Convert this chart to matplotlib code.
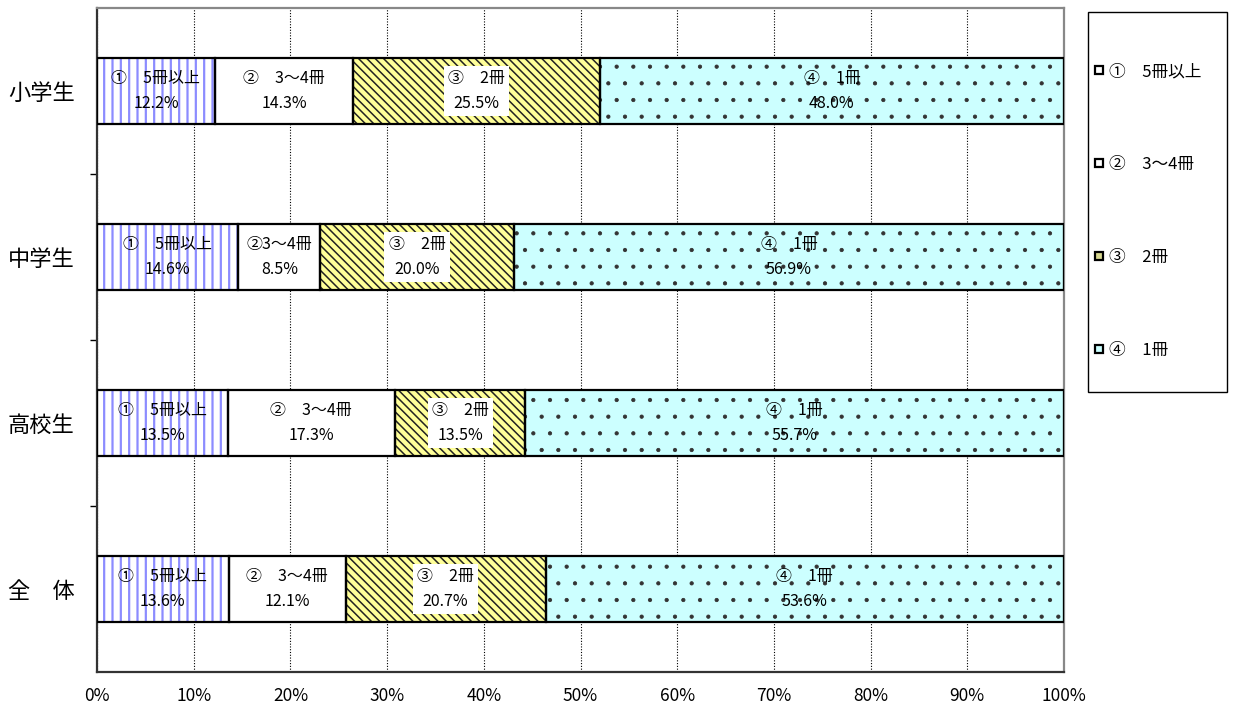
import numpy as np
import matplotlib.pyplot as plt
from matplotlib.lines import Line2D
from matplotlib.patches import Rectangle

plt.rcParams['font.family'] = ['Noto Sans CJK JP', 'DejaVu Sans']

# 学年別の割合 (%)
groups = ['小学生', '中学生', '高校生', '全\u3000体']
cat_names = ['①\u30005冊以上', '②\u30003～4冊', '③\u30002冊', '④\u30001冊']
vals_5plus = [12.2, 14.6, 13.5, 13.6]
vals_3to4 = [14.3, 8.5, 17.3, 12.1]
vals_2 = [25.5, 20.0, 13.5, 20.7]
vals_1 = [48.0, 56.9, 55.7, 53.6]

# 中学生の②だけラベルが詰まっている
seg_labels = [list(cat_names) for _ in groups]
seg_labels[1][1] = '②3～4冊'

series = [vals_5plus, vals_3to4, vals_2, vals_1]
faces = ['white', 'white', '#ffff99', '#ccffff']
hatch_col = ['#8c8cff', 'white', '#222222', '#333333']
hatches = ['||', None, '\\\\\\\\', '.']
hatch_lw = [1.6, 1.0, 1.1, 0.6]
legend_faces = ['white', 'white', '#d8d890', '#ccffff']

fig = plt.figure(figsize=(12.34, 7.09), dpi=100)
ax = fig.add_axes([97/1234, 1 - 672/709, (1064 - 97)/1234, (672 - 8)/709])

y = np.arange(len(groups))
h = 0.40
left = np.zeros(len(groups))
for k, vals in enumerate(series):
    vals = np.array(vals)
    # 塗りと模様
    with plt.rc_context({'hatch.linewidth': hatch_lw[k]}):
        bars = ax.barh(y, vals, h, left=left, color=faces[k], hatch=hatches[k],
                       edgecolor=hatch_col[k], linewidth=0, zorder=2)
        for b in bars:
            if hasattr(b, 'set_hatch_linewidth'):
                b.set_hatch_linewidth(hatch_lw[k])
    # 枠線
    ax.barh(y, vals, h, left=left, fill=False, edgecolor='black',
            linewidth=1.6, zorder=3)
    for i, v in enumerate(vals):
        txt = f'{seg_labels[i][k]}\n{v:.1f}%'
        box = None
        if k == 2:
            box = dict(facecolor='white', edgecolor='none', pad=3)
        ax.text(left[i] + v / 2, y[i], txt, ha='center', va='center',
                fontsize=11.5, linespacing=1.65, bbox=box, zorder=4)
    left += vals

ax.set_xlim(0, 100)
ax.set_ylim(len(groups) - 0.5, -0.5)
ax.set_xticks(np.arange(0, 101, 10))
ax.set_xticklabels([f'{t}%' for t in range(0, 101, 10)], fontsize=12.5)
ax.tick_params(axis='x', length=0, pad=11)
ax.set_yticks(y)
ax.set_yticklabels(groups, fontsize=16)
ax.tick_params(axis='y', which='major', length=0, pad=16)
ax.set_yticks(np.arange(0.5, len(groups) - 1), minor=True)
ax.tick_params(axis='y', which='minor', length=5, width=1)

ax.grid(axis='x', linestyle=(0, (1, 1.5)), color='black', linewidth=0.8, zorder=1)
ax.set_axisbelow(True)
for s in ['left', 'bottom']:
    ax.spines[s].set_color('#333333')
    ax.spines[s].set_linewidth(1.6)
for s in ['top', 'right']:
    ax.spines[s].set_color('#888888')
    ax.spines[s].set_linewidth(1.6)

# 凡例
fig.patches.append(Rectangle((1088/1234, 1 - 392/709), 139/1234, 380/709,
                             transform=fig.transFigure, fill=False,
                             edgecolor='black', linewidth=1))
handles = [Line2D([], [], marker='s', linestyle='none', markersize=6,
                  markerfacecolor=c, markeredgecolor='black', markeredgewidth=1.6)
           for c in legend_faces]
fig.legend(handles, cat_names, loc='upper left',
           bbox_to_anchor=(1094/1234, 1 - 63/709), frameon=False,
           fontsize=12, labelspacing=4.55, handlelength=0.6, handletextpad=0.3,
           borderpad=0, borderaxespad=0)

fig.savefig('out.png', dpi=100)
